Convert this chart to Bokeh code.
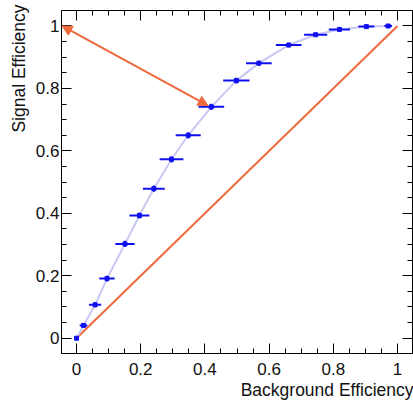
from bokeh.plotting import figure
from bokeh.models import (Range1d, SingleIntervalTicker, LinearAxis, Title,
                          Arrow, NormalHead, ColumnDataSource)
from bokeh.embed import file_html
from bokeh.resources import INLINE

# ROC curve data (background efficiency, signal efficiency)
bkg_eff = [0.0, 0.022, 0.058, 0.095, 0.151, 0.196, 0.241, 0.296, 0.348,
           0.420, 0.498, 0.568, 0.661, 0.745, 0.819, 0.903, 0.971]
sig_eff = [0.0, 0.041, 0.107, 0.191, 0.302, 0.393, 0.479, 0.573, 0.650,
           0.741, 0.825, 0.881, 0.939, 0.972, 0.989, 0.998, 1.0]
bkg_err = [0.002, 0.012, 0.019, 0.024, 0.030, 0.031, 0.034, 0.037, 0.039,
           0.040, 0.041, 0.040, 0.040, 0.036, 0.033, 0.025, 0.012]
sig_err = [0.0, 0.006, 0.008, 0.009, 0.010, 0.010, 0.010, 0.010, 0.010,
           0.010, 0.009, 0.008, 0.007, 0.005, 0.004, 0.003, 0.002]

diag_x = [0.0, 1.0]
diag_y = [0.0, 1.0]
arrow_x = [-0.045, 0.41]
arrow_y = [1.0, 0.745]

x_title = "Background Efficiency"
y_title = "Signal Efficiency"

FONT = "Liberation Sans"
ORANGE = "#ee6a3c"
BLUE = "#1010ee"

X0, X1 = -0.0467, 1.0467
Y0, Y1 = -0.049, 1.0496

p = figure(width=413, height=402, output_backend="svg", toolbar_location=None,
           x_range=Range1d(X0, X1), y_range=Range1d(Y0, Y1),
           min_border_left=61, min_border_right=1, min_border_top=10,
           min_border_bottom=49, x_axis_location=None, y_axis_location=None)
p.grid.visible = False
p.outline_line_color = "black"
p.outline_line_width = 1
p.background_fill_color = "white"
p.border_fill_color = "white"


def make_axis(show_labels, standoff):
    ax = LinearAxis(ticker=SingleIntervalTicker(interval=0.2, num_minor_ticks=4))
    ax.major_tick_in = 10
    ax.major_tick_out = 0
    ax.minor_tick_in = 5
    ax.minor_tick_out = 0
    ax.major_tick_line_color = "black"
    ax.minor_tick_line_color = "black"
    ax.axis_line_color = "black"
    ax.major_label_standoff = standoff
    ax.major_label_text_font = FONT
    ax.major_label_text_font_size = "17px"
    ax.major_label_text_color = "#111111"
    if not show_labels:
        ax.major_label_text_color = None
        ax.major_label_text_font_size = "0px"
        ax.major_label_standoff = 0
    return ax


p.add_layout(make_axis(True, 9), "below")
p.add_layout(make_axis(True, 2), "left")
p.add_layout(make_axis(False, 0), "above")
p.add_layout(make_axis(False, 0), "right")

# axis titles (ROOT style: right-aligned / top-aligned)
p.add_layout(Title(text=x_title, align="right", text_font=FONT,
                   text_font_size="17.5px", text_font_style="normal",
                   text_color="#111111", standoff=0, offset=-1), "below")
p.add_layout(Title(text=y_title, align="right", text_font=FONT,
                   text_font_size="17.5px", text_font_style="normal",
                   text_color="#111111", standoff=7, offset=-6), "left")

# random-guess diagonal
p.line(diag_x, diag_y, line_color=ORANGE, line_width=2)

# ROC curve
p.line(bkg_eff, sig_eff, line_color="#c8c8f2", line_width=2)

src = ColumnDataSource(data=dict(
    x=bkg_eff, y=sig_eff,
    xl=[a - e for a, e in zip(bkg_eff, bkg_err)],
    xr=[a + e for a, e in zip(bkg_eff, bkg_err)],
    yl=[a - e for a, e in zip(sig_eff, sig_err)],
    yu=[a + e for a, e in zip(sig_eff, sig_err)],
))
p.segment(x0="xl", y0="y", x1="xr", y1="y", source=src, line_color=BLUE, line_width=2)
p.segment(x0="x", y0="yl", x1="x", y1="yu", source=src, line_color=BLUE, line_width=2)
p.scatter(x="x", y="y", source=src, marker="square", size=4,
          fill_color=BLUE, line_color=BLUE)

# double-headed arrow
p.add_layout(Arrow(x_start=arrow_x[0], y_start=arrow_y[0],
                   x_end=arrow_x[1], y_end=arrow_y[1],
                   line_color=ORANGE, line_width=2,
                   start=NormalHead(size=10, fill_color=ORANGE, line_color=ORANGE),
                   end=NormalHead(size=10, fill_color=ORANGE, line_color=ORANGE)))

open("out.html", "w").write(file_html(p, INLINE))
